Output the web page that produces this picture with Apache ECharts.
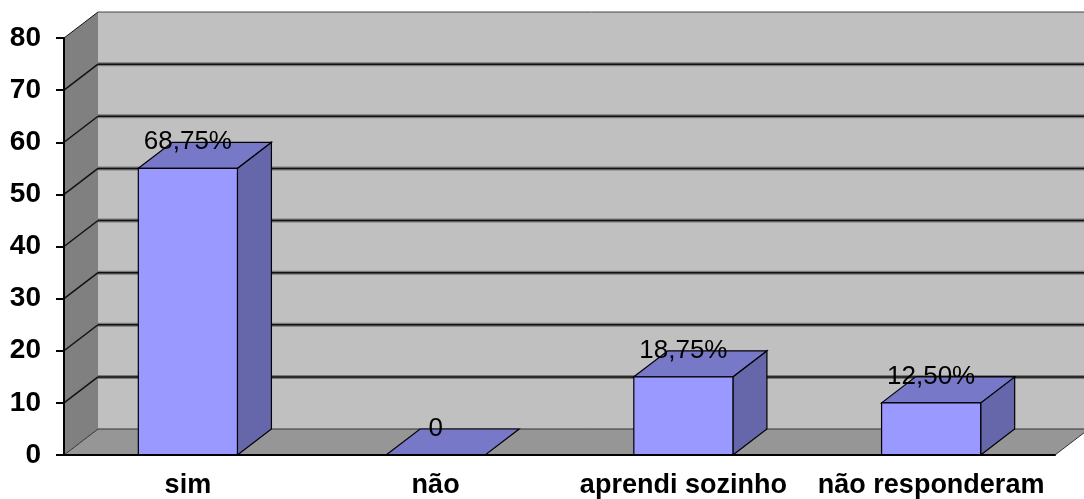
<!DOCTYPE html>
<html>
<head>
<meta charset="utf-8">
<script src="https://cdn.jsdelivr.net/npm/echarts@6/dist/echarts.min.js"></script>
<style>
  html, body { margin: 0; padding: 0; background: #fff; }
  #main { width: 1084px; height: 499px; }
</style>
</head>
<body>
<div id="main"></div>
<script>
'use strict'

// dados do gráfico
const categories = ['sim', 'não', 'aprendi sozinho', 'não responderam'];
const values = [55, 0, 15, 10];
const valueLabels = ['68,75%', '0', '18,75%', '12,50%'];
const gridValues = [0, 10, 20, 30, 40, 50, 60, 70, 80];

// deslocamento da profundidade (efeito 3D)
const DEPTH = [34, -26];
const FONT = '"Liberation Sans", Arial, sans-serif';

let myChart = echarts.init(document.getElementById('main'));

// paredes, piso e linhas de grade
function renderWalls(params, api) {
    const cs = params.coordSys;
    const x0 = cs.x, x1 = cs.x + cs.width;
    const yb = api.coord([0, 0])[1];
    const yt = api.coord([0, gridValues[gridValues.length - 1]])[1];
    const dx = DEPTH[0], dy = DEPTH[1];
    const children = [{
        type: 'polygon',
        shape: { points: [[x0, yt], [x0 + dx, yt + dy], [x0 + dx, yb + dy], [x0, yb]] },
        style: { fill: '#808080' }
    }, {
        type: 'rect',
        shape: { x: x0 + dx, y: yt + dy, width: cs.width, height: yb - yt },
        style: { fill: '#c0c0c0' }
    }, {
        type: 'polygon',
        shape: { points: [[x0, yb], [x0 + dx, yb + dy], [x1 + dx, yb + dy], [x1, yb]] },
        style: { fill: '#969696', stroke: '#333', lineWidth: 1 }
    }];
    gridValues.forEach(v => {
        if (v === 0) return;
        const y = api.coord([0, v])[1];
        const top = v === gridValues[gridValues.length - 1];
        children.push({
            type: 'line',
            shape: { x1: x0 + dx, y1: y + dy, x2: x1 + dx, y2: y + dy },
            style: { stroke: top ? '#444' : '#7a7a7a', lineWidth: top ? 1 : 4 }
        });
        if (!top) {
            children.push({
                type: 'line',
                shape: { x1: x0 + dx, y1: y + dy, x2: x1 + dx, y2: y + dy },
                style: { stroke: '#111', lineWidth: 1.5 }
            });
        }
        children.push({
            type: 'line',
            shape: { x1: x0, y1: y, x2: x0 + dx, y2: y + dy },
            style: { stroke: '#111', lineWidth: top ? 1 : 1.5 }
        });
    });
    return { type: 'group', children };
}

// barras em 3D
function renderBar(params, api) {
    const i = api.value(0);
    const v = api.value(1);
    const base = api.coord([i, 0]);
    const top = api.coord([i, v]);
    const w = api.size([1, 0])[0] * 0.4;
    const xl = base[0] - w / 2, xr = base[0] + w / 2;
    const dx = DEPTH[0], dy = DEPTH[1];
    const edge = { stroke: '#000', lineWidth: 1.2 };
    const children = [];
    if (v > 0) {
        children.push({
            type: 'polygon',
            shape: { points: [[xr, top[1]], [xr + dx, top[1] + dy], [xr + dx, base[1] + dy], [xr, base[1]]] },
            style: Object.assign({ fill: '#6666aa' }, edge)
        });
    }
    children.push({
        type: 'polygon',
        shape: { points: [[xl, top[1]], [xl + dx, top[1] + dy], [xr + dx, top[1] + dy], [xr, top[1]]] },
        style: Object.assign({ fill: '#7878c8' }, edge)
    });
    if (v > 0) {
        children.push({
            type: 'rect',
            shape: { x: xl, y: top[1], width: w, height: base[1] - top[1] },
            style: Object.assign({ fill: '#9999ff' }, edge)
        });
    }
    children.push({
        type: 'text',
        z2: 10,
        style: {
            text: valueLabels[params.dataIndex],
            x: base[0],
            y: top[1] + dy,
            align: 'center',
            verticalAlign: 'middle',
            font: '26px ' + FONT,
            fill: '#000'
        }
    });
    return { type: 'group', children };
}

myChart.setOption({
    backgroundColor: '#fff',
    animation: false,
    grid: {
        left: 64,
        right: 29,
        top: 38,
        bottom: 42
    },
    xAxis: {
        type: 'category',
        data: categories,
        z: 10,
        axisLine: { lineStyle: { color: '#000', width: 2 } },
        axisTick: { length: 8, lineStyle: { color: '#000', width: 2 } },
        axisLabel: {
            interval: 0,
            color: '#000',
            fontFamily: FONT,
            fontWeight: 'bold',
            fontSize: 27,
            margin: 17
        },
        splitLine: { show: false }
    },
    yAxis: {
        type: 'value',
        min: 0,
        max: 80,
        interval: 10,
        z: 10,
        axisLine: { show: true, lineStyle: { color: '#000', width: 2 } },
        axisTick: { show: true, length: 8, lineStyle: { color: '#000', width: 2 } },
        axisLabel: {
            color: '#000',
            fontFamily: FONT,
            fontWeight: 'bold',
            fontSize: 28,
            margin: 23
        },
        splitLine: { show: false }
    },
    series: [{
        type: 'custom',
        name: 'paredes',
        renderItem: renderWalls,
        data: [[0, 0]],
        z: 1,
        silent: true
    }, {
        type: 'custom',
        name: 'respostas',
        renderItem: renderBar,
        data: categories.map((c, i) => [i, values[i]]),
        z: 5
    }]
});
</script>
</body>
</html>
